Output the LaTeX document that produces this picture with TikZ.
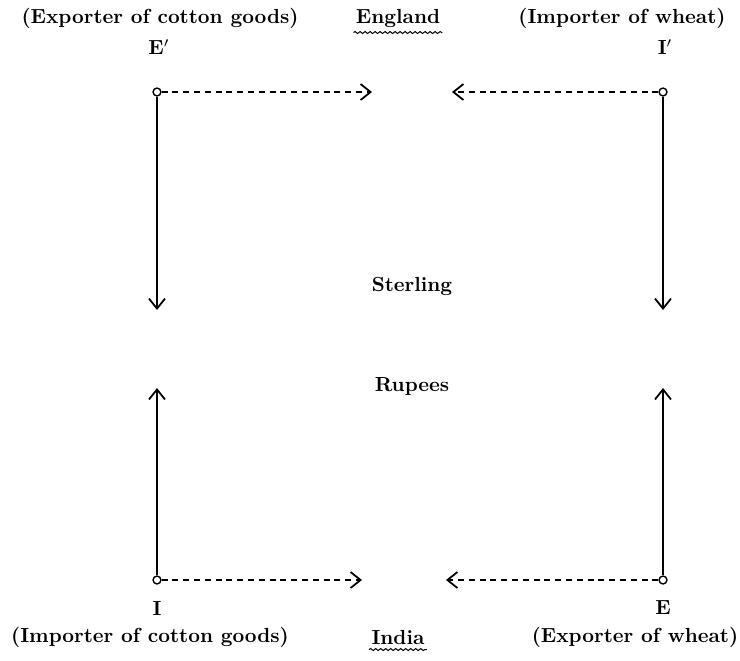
\documentclass[tikz,border=0pt]{standalone}
\usetikzlibrary{arrows.meta,decorations.pathmorphing}

\tikzset{
  lbl/.style={font=\fontsize{10.2}{12}\bfseries\selectfont, inner sep=1pt},
  pt/.style={circle, draw, line width=0.7pt, inner sep=1.4pt},
  flow/.style={line width=0.9pt, -{Straight Barb[length=5pt,width=8pt]}},
  pay/.style={flow, dash pattern=on 3pt off 2.4pt},
  wavy/.style={decorate, decoration={snake, amplitude=0.5pt, segment length=2.5pt}, line width=0.5pt}
}

\begin{document}
\begin{tikzpicture}[x=0.5pt,y=-0.5pt]
\useasboundingbox (0,0) rectangle (740,660);

% headings
\node[lbl] (expc) at (160,18) {(Exporter of cotton goods)};
\node[lbl] (eng) at (398,18) {England};
\node[lbl] (impw) at (622,18) {(Importer of wheat)};
\node[lbl] (impc) at (150,637) {(Importer of cotton goods)};
\node[lbl] (ind) at (398,637) {India};
\node[lbl] (expw) at (635,637) {(Exporter of wheat)};

\draw[wavy] ([yshift=-1.5pt]eng.south west) -- ([yshift=-1.5pt]eng.south east);
\draw[wavy] ([yshift=-1.5pt]ind.south west) -- ([yshift=-1.5pt]ind.south east);

% traders
\node[lbl] (Ep) at (159,47) {E$'$};
\node[lbl] (Ip) at (665,47) {I$'$};
\node[lbl] (I) at (157,608) {I};
\node[lbl] (E) at (663,608) {E};

\node[pt] (ep) at (157,92) {};
\node[pt] (ip) at (663,92) {};
\node[pt] (i) at (157,580) {};
\node[pt] (e) at (663,580) {};

\node[lbl] (st) at (412,286) {Sterling};
\node[lbl] (ru) at (412,386) {Rupees};

\coordinate (tl) at (372,92);
\coordinate (tr) at (452,92);
\coordinate (bl) at (362,580);
\coordinate (br) at (446,580);
\coordinate (ld) at (157,310);
\coordinate (rd) at (663,310);
\coordinate (lu) at (157,388);
\coordinate (ru') at (663,388);

\draw[pay] (ep) -- (tl);
\draw[pay] (ip) -- (tr);
\draw[pay] (i) -- (bl);
\draw[pay] (e) -- (br);

\draw[flow] (ep) -- (ld);
\draw[flow] (ip) -- (rd);
\draw[flow] (i) -- (lu);
\draw[flow] (e) -- (ru');
\end{tikzpicture}
\end{document}
